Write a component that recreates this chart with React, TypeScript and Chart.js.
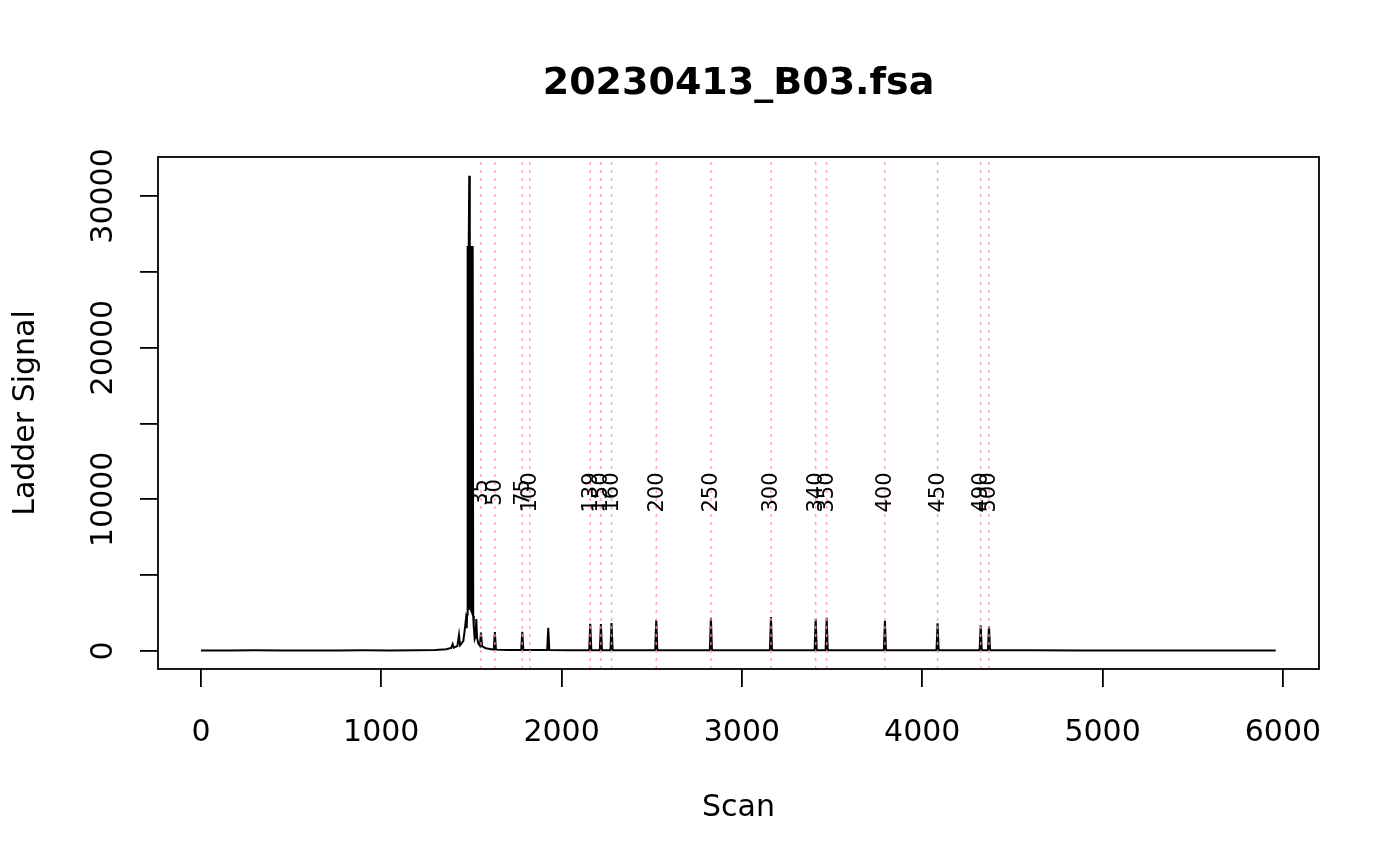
import { useEffect, useRef } from "react";
import { Chart, registerables } from "chart.js";

Chart.register(...registerables);

const chartTitle = "20230413_B03.fsa";
const xTitle = "Scan";
const yTitle = "Ladder Signal";

const signalScan = [
  0, 150, 300, 450, 600, 750, 900, 1050, 1200, 1300, 1360,
  1388, 1396, 1402, 1422, 1431, 1437, 1455, 1462, 1469, 1474,
  1476, 1478, 1480, 1482, 1484, 1486, 1488, 1490, 1492, 1494, 1496, 1498, 1500, 1502, 1504, 1506, 1508, 1510,
  1513, 1518, 1523, 1527, 1531, 1538, 1547, 1553, 1559, 1580, 1610,
  1624, 1630, 1636, 1700,
  1776, 1782, 1788, 1860,
  1920, 1926, 1932, 2050,
  2153, 2159, 2165, 2190,
  2212, 2218, 2224, 2250,
  2271, 2277, 2283, 2400,
  2519, 2525, 2531, 2700,
  2822, 2828, 2834, 3000,
  3155, 3161, 3167, 3300,
  3403, 3409, 3415, 3440,
  3464, 3470, 3476, 3650,
  3787, 3793, 3799, 3950,
  4079, 4085, 4091, 4200,
  4318, 4324, 4330, 4347,
  4364, 4370, 4376, 4600, 4900, 5200, 5500, 5800, 5960,
];

const signalValue = [
  40, 30, 45, 30, 40, 35, 45, 40, 50, 60, 120,
  200, 450, 220, 320, 1050, 380, 650, 1300, 2050, 1500,
  2400, 26700, 2600, 26700, 2700, 26700, 31340, 2800, 26720, 2800, 26700, 2700, 26700, 2600, 26700, 2500, 26600, 2300,
  1600, 800, 1000, 2100, 900, 500, 350, 1210, 300, 180, 120,
  90, 1250, 90, 70,
  60, 1270, 60, 60,
  60, 1536, 60, 55,
  55, 1800, 55, 55,
  55, 1780, 55, 55,
  55, 1850, 55, 50,
  50, 2044, 50, 50,
  50, 2196, 50, 50,
  50, 2242, 50, 50,
  50, 2130, 50, 50,
  50, 2196, 50, 50,
  50, 2000, 50, 50,
  50, 1826, 50, 50,
  50, 1695, 50, 50,
  50, 1628, 50, 45, 40, 40, 35, 35, 30,
];

const ladderSizes = ["35", "50", "75", "100", "139", "150", "160", "200", "250", "300", "340", "350", "400", "450", "490", "500"];
const ladderScan = [1553, 1630, 1782, 1824, 2159, 2218, 2277, 2525, 2828, 3161, 3409, 3470, 3793, 4085, 4324, 4370];
const ladderLabelY = 10450;

const xTickValues = [0, 1000, 2000, 3000, 4000, 5000, 6000];
const yTickValues = [0, 5000, 10000, 15000, 20000, 25000, 30000];
const yLabelValues = [0, 10000, 20000, 30000];

const X_MIN = -238;
const X_MAX = 6200;
const Y_MIN = -1187;
const Y_MAX = 32571;

const FONT = "'DejaVu Sans', sans-serif";

export default function App() {
  const canvasRef = useRef<HTMLCanvasElement | null>(null);

  useEffect(() => {
    document.body.style.margin = "0";
    const canvas = canvasRef.current;
    if (!canvas) return;

    const signalData = signalScan.map((x, i) => ({ x, y: signalValue[i] }));
    const ladderSets = ladderScan.map((x) => ({
      type: "line" as const,
      data: [{ x, y: Y_MIN }, { x, y: Y_MAX }],
      borderColor: "rgba(255,150,150,0.85)",
      borderWidth: 1.5,
      borderDash: [3, 5],
      pointRadius: 0,
      order: 1,
    }));

    const rPlot = {
      id: "rPlot",
      afterDatasetsDraw(chart: any) {
        const ctx = chart.ctx;
        const xs = chart.scales.x;
        const ys = chart.scales.y;
        ctx.save();
        ctx.fillStyle = "#000";
        ctx.font = `21px ${FONT}`;
        ctx.textAlign = "center";
        ctx.textBaseline = "middle";
        ladderSizes.forEach((lab, i) => {
          const px = xs.getPixelForValue(ladderScan[i]);
          const py = ys.getPixelForValue(ladderLabelY);
          ctx.save();
          ctx.translate(px + 1, py);
          ctx.rotate(-Math.PI / 2);
          ctx.fillText(lab, 0, 0);
          ctx.restore();
        });
        ctx.restore();
      },
      afterDraw(chart: any) {
        const ctx = chart.ctx;
        const a = chart.chartArea;
        const xs = chart.scales.x;
        const ys = chart.scales.y;
        ctx.save();
        ctx.strokeStyle = "#000";
        ctx.lineWidth = 1.8;
        ctx.strokeRect(a.left, a.top, a.right - a.left, a.bottom - a.top);
        ctx.fillStyle = "#000";
        ctx.font = `bold 38px ${FONT}`;
        ctx.textAlign = "center";
        ctx.textBaseline = "alphabetic";
        ctx.fillText(chartTitle, (a.left + a.right) / 2, 94);
        ctx.font = `30px ${FONT}`;
        xs.ticks.forEach((t: any) => {
          ctx.fillText(String(t.value), xs.getPixelForValue(t.value), 741);
        });
        ctx.fillText(xTitle, (a.left + a.right) / 2, 816);
        yLabelValues.forEach((v) => {
          ctx.save();
          ctx.translate(112, ys.getPixelForValue(v));
          ctx.rotate(-Math.PI / 2);
          ctx.fillText(String(v), 0, 0);
          ctx.restore();
        });
        ctx.save();
        ctx.translate(34, (a.top + a.bottom) / 2);
        ctx.rotate(-Math.PI / 2);
        ctx.fillText(yTitle, 0, 0);
        ctx.restore();
        ctx.restore();
      },
    };

    const chart = new Chart(canvas, {
      type: "line",
      data: {
        datasets: [
          {
            data: signalData,
            borderColor: "#000",
            borderWidth: 2,
            pointRadius: 0,
            tension: 0,
            order: 2,
          } as any,
          ...(ladderSets as any[]),
        ],
      },
      options: {
        animation: false,
        responsive: false,
        maintainAspectRatio: false,
        layout: { padding: { left: 0, right: 81, top: 157, bottom: 0 } },
        plugins: {
          legend: { display: false },
          tooltip: { enabled: false },
          title: { display: false },
        },
        scales: {
          x: {
            type: "linear",
            min: X_MIN,
            max: X_MAX,
            ticks: { display: false },
            grid: { drawOnChartArea: false, drawTicks: true, tickLength: 18, color: "#000", lineWidth: 1.8 },
            border: { display: false },
            afterBuildTicks: (s: any) => { s.ticks = xTickValues.map((v) => ({ value: v })); },
            afterFit: (s: any) => { s.height = 197; },
          },
          y: {
            type: "linear",
            min: Y_MIN,
            max: Y_MAX,
            ticks: { display: false },
            grid: { drawOnChartArea: false, drawTicks: true, tickLength: 18, color: "#000", lineWidth: 1.8 },
            border: { display: false },
            afterBuildTicks: (s: any) => { s.ticks = yTickValues.map((v) => ({ value: v })); },
            afterFit: (s: any) => { s.width = 158; },
          },
        },
      },
      plugins: [rPlot],
    });

    return () => chart.destroy();
  }, []);

  return (
    <div style={{ position: "fixed", left: 0, top: 0, width: 1400, height: 866, background: "#fff" }}>
      <canvas ref={canvasRef} width={1400} height={866} style={{ width: 1400, height: 866, display: "block" }} />
    </div>
  );
}
